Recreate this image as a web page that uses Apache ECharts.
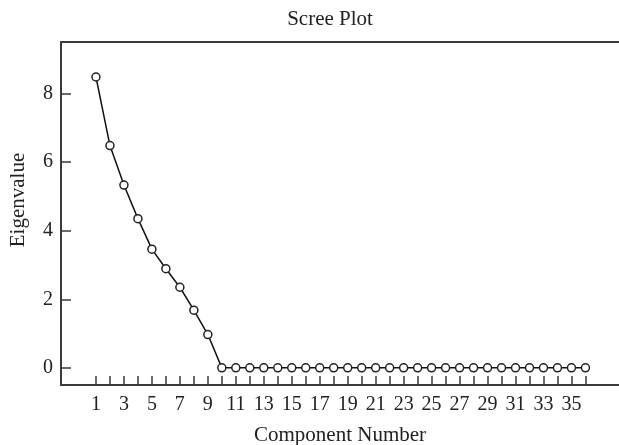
<!DOCTYPE html>
<html>
<head>
<meta charset="utf-8">
<script src="https://cdn.jsdelivr.net/npm/echarts@6/dist/echarts.min.js"></script>
<style>html,body{margin:0;padding:0;background:#fff;}#c{width:619px;height:445px;}</style>
</head>
<body>
<div id="c"></div>
<script>
var components = [];
for (var i = 1; i <= 36; i++) components.push(i);
var eigenvalues = [8.48, 6.48, 5.33, 4.35, 3.46, 2.89, 2.35, 1.68, 0.97,
  0, 0, 0, 0, 0, 0, 0, 0, 0, 0, 0, 0, 0, 0, 0, 0, 0, 0, 0, 0, 0, 0, 0, 0, 0, 0, 0];
var xTickValues = components.slice();
var xLabelValues = [1,3,5,7,9,11,13,15,17,19,21,23,25,27,29,31,33,35];
var yTickValues = [0,2,4,6,8];

var font = 'Liberation Serif';
var chart = echarts.init(document.getElementById('c'));
chart.setOption({
  backgroundColor: '#fff',
  animation: false,
  title: {
    text: 'Scree Plot', left: 330, top: 9, textAlign: 'center', padding: 0,
    textStyle: {fontFamily: font, fontSize: 21, fontWeight: 'normal', color: '#222'}
  },
  graphic: [{
    type: 'text', x: 18, y: 200, rotation: Math.PI / 2,
    style: {text: 'Eigenvalue', font: '21px "Liberation Serif"', fill: '#222',
      textAlign: 'center', textVerticalAlign: 'middle'}
  }],
  grid: {left: 61, right: 0, top: 42, bottom: 60, containLabel: false, outerBoundsMode: 'none'},
  xAxis: [{
    type: 'value', min: -1.5, max: 38.4,
    name: 'Component Number', nameLocation: 'middle', nameGap: 40,
    nameTextStyle: {fontFamily: font, fontSize: 21, color: '#222'},
    axisLine: {show: true, onZero: false, lineStyle: {color: '#3a3a3a', width: 2}},
    axisTick: {show: true, inside: true, length: 9, customValues: xTickValues,
      lineStyle: {color: '#3a3a3a', width: 1.5}},
    axisLabel: {customValues: xLabelValues, margin: 10, fontFamily: font, fontSize: 20, color: '#222'},
    splitLine: {show: false}
  }, {
    type: 'value', position: 'top', min: -1.5, max: 38.4,
    axisLine: {show: true, onZero: false, lineStyle: {color: '#3a3a3a', width: 2}},
    axisTick: {show: false}, axisLabel: {show: false}, splitLine: {show: false}
  }],
  yAxis: {
    type: 'value', min: -0.5, max: 9.5,
    axisLine: {show: true, onZero: false, lineStyle: {color: '#3a3a3a', width: 2}},
    axisTick: {show: true, inside: true, length: 10, customValues: yTickValues,
      lineStyle: {color: '#3a3a3a', width: 1.5}},
    axisLabel: {customValues: yTickValues, margin: 8, fontFamily: font, fontSize: 20, color: '#222'},
    splitLine: {show: false}
  },
  series: [{
    type: 'line',
    data: components.map(function (c, i) { return [c, eigenvalues[i]]; }),
    symbol: 'circle', symbolSize: 8, showSymbol: true,
    lineStyle: {color: '#111', width: 1.5},
    itemStyle: {color: '#fff', borderColor: '#222', borderWidth: 1.5}
  }]
});
</script>
</body>
</html>
